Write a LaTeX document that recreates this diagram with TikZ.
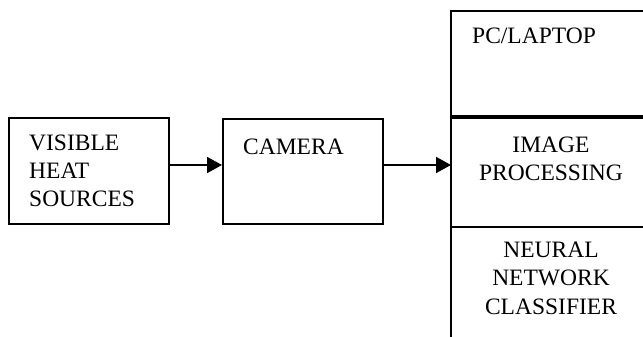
\documentclass[tikz,border=0pt]{standalone}
\usepackage{fontspec}
\setmainfont{Liberation Serif}
\usetikzlibrary{arrows.meta,positioning}

\tikzset{
  blockbox/.style={draw, line width=2pt, minimum width=160pt, minimum height=105pt, inner sep=0pt},
  blocktext/.style={inner sep=0pt, font=\fontsize{23.5}{28.3}\selectfont},
  flowarrow/.style={line width=1.8pt, -{Triangle[length=15pt,width=16pt]}}
}

\begin{document}
\begin{tikzpicture} [x=1pt, y=1pt]
        \useasboundingbox (0, 0) rectangle (643, 337);
        % left blocks
        \node [blockbox, minimum width=160.5pt, minimum height=106pt] (src) at (88.75, 166) {};
        \node [blocktext, anchor=north west, align=left] (srctext) at (29, 202.7) {VISIBLE\\HEAT\\SOURCES};
        \node [blockbox] (cam) at (303, 165.5) {};
        \node [blocktext, anchor=north west] (camtext) at (243, 198.7) {CAMERA};
        % computer column
        \coordinate (colnw) at (451, 326);
        \coordinate (colne) at (643, 326);
        \coordinate (colsw) at (451, 0);
        \draw [line width=2pt] (colne) -- (colnw) -- (colsw);
        \draw [line width=4pt] (451, 220) -- (643, 220);
        \draw [line width=2.5pt] (451, 110) -- (643, 110);
        \node [blocktext, anchor=north west] (pctext) at (472, 309) {PC/LAPTOP};
        \node [blocktext, anchor=north, align=center] (proctext) at (551, 200.5) {IMAGE\\PROCESSING};
        \node [blocktext, anchor=north, align=center] (nntext) at (551, 95.3) {NEURAL\\NETWORK\\CLASSIFIER};
        % arrows
        \draw [flowarrow] ([yshift=6pt]src.east) -- ([yshift=6pt]src.east -| cam.west);
        \draw [flowarrow] ([yshift=6.5pt]cam.east) -- ([yshift=6.5pt]cam.east -| colnw);
    \end{tikzpicture}
\end{document}
